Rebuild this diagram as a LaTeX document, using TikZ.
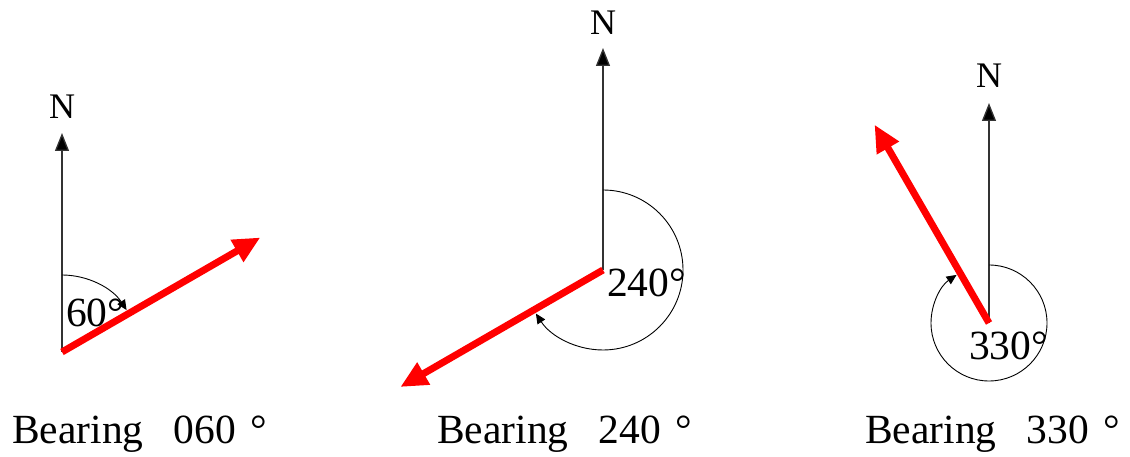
\documentclass[tikz,border=0pt]{standalone}
\usepackage{fontspec}
\setmainfont{Liberation Serif}
\usetikzlibrary{arrows.meta,calc}
\tikzset{
  northline/.style={draw=black!80, line width=1.3pt, -{Triangle[length=18pt,width=14pt,fill=black]}},
  bearingline/.style={draw=red, line width=7pt, -{Triangle[length=27pt,width=24pt]}},
  anglearc/.style={draw=black, line width=0.9pt, -{Triangle[length=10pt,width=9pt]}},
  bigtext/.style={font=\fontsize{41.5}{48}\selectfont, inner sep=0pt, anchor=base west},
  ntext/.style={font=\fontsize{36}{42}\selectfont, inner sep=0pt, anchor=base},
}
\begin{document}
\begin{tikzpicture}[x=1pt,y=1pt]
\useasboundingbox (0,0) rectangle (1130,457);
% ---------- diagram 1 ----------
\coordinate (o1) at (62,105);
\coordinate (n1tip) at (62,324);
\coordinate (b1tip) at ($(o1)+(30:229)$);
\node[ntext] (n1) at (62,338) {N};
\draw[northline] (o1) -- (n1tip);
\draw[bearingline] (o1) -- (b1tip);
\draw[anglearc] ($(o1)+(0,77)$) arc[start angle=90, end angle=33, radius=77];
\node[bigtext] (a1) at (66,130) {60°};
\node[bigtext] (t1) at (12,13) {Bearing\hspace{30pt}060\hspace{15pt}°};
% ---------- diagram 2 ----------
\coordinate (o2) at (603,187);
\coordinate (n2tip) at (603,409);
\coordinate (b2tip) at ($(o2)+(-150:234)$);
\node[ntext] (n2) at (603,422) {N};
\draw[northline] (o2) -- (n2tip);
\draw[bearingline] (o2) -- (b2tip);
\draw[anglearc] ($(o2)+(0,80)$) arc[start angle=90, end angle=-147, radius=80];
\node[bigtext] (a2) at (607,160) {240°};
\node[bigtext] (t2) at (437,13) {Bearing\hspace{30pt}240\hspace{15pt}°};
% ---------- diagram 3 ----------
\coordinate (o3) at (989,134);
\coordinate (n3tip) at (989,354);
\coordinate (b3tip) at ($(o3)+(120:229)$);
\node[ntext] (n3) at (989,369) {N};
\draw[northline] (o3) -- (n3tip);
\draw[bearingline] (o3) -- (b3tip);
\draw[anglearc] ($(o3)+(0,58)$) arc[start angle=90, end angle=-236, radius=58];
\node[bigtext] (a3) at (969,97) {330°};
\node[bigtext] (t3) at (865,13) {Bearing\hspace{30pt}330\hspace{15pt}°};
\end{tikzpicture}
\end{document}
